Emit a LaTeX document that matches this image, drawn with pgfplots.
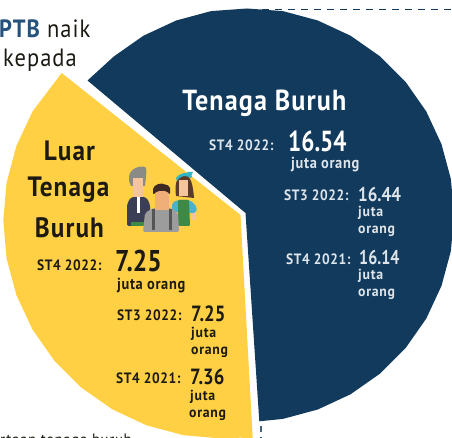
\documentclass[border=0pt]{standalone}
\usepackage{fontspec}
\usepackage{pgfplots}
\pgfplotsset{compat=1.18}
\setmainfont{PT Sans}[FakeStretch=0.9,LetterSpace=4]
\newfontfamily\numf{PT Sans}[FakeStretch=0.8]
\newfontfamily\numg{PT Sans}[FakeStretch=0.85]
\newfontfamily\smallf{PT Sans}[FakeStretch=0.95,LetterSpace=5]
\definecolor{navy}{HTML}{113A5C}
\definecolor{kuning}{HTML}{FFD044}
\definecolor{ptb}{HTML}{24527C}
\definecolor{pale}{HTML}{DDE4EA}
\definecolor{ink}{HTML}{1C1A12}
\definecolor{jacket}{HTML}{3A3F55}
\definecolor{skin}{HTML}{F4C59C}
\definecolor{skinb}{HTML}{F0AE78}
\definecolor{apron}{HTML}{3E8A45}
\definecolor{hairb}{HTML}{5A3A2C}
\definecolor{hairc}{HTML}{3E2A22}
\definecolor{band}{HTML}{2FB5C5}
\definecolor{top}{HTML}{4BB2CC}
\definecolor{shirt}{HTML}{9C9C9C}
\definecolor{strap}{HTML}{555555}
\definecolor{hairg}{HTML}{8A8A86}
\newcommand{\T}[5][ink]{\node[anchor=west,inner sep=0pt,text=#1] at (#2,#3) {\fontsize{#4}{#4}\selectfont #5};}
\newcommand{\C}[5][ink]{\node[anchor=center,inner sep=0pt,text=#1] at (#2,#3) {\fontsize{#4}{#4}\selectfont #5};}
\begin{document}
\begin{tikzpicture}
\begin{axis}[scale only axis,width=452pt,height=438pt,xmin=0,xmax=452,ymin=0,ymax=438,y dir=reverse,hide axis,clip=true,at={(0pt,0pt)},anchor=south west]
% navy slice
\addplot[fill=navy,draw=none] coordinates {(245.5,213)(87.5,80.5)(113.9,56.4)(143.5,35.7)(176.2,20.5)(211.1,11.1)(247,8.5)(282.9,11.1)(317.8,20.5)(350.5,35.7)(380.1,56.4)(405.6,81.9)(426.3,111.5)(441.5,144.2)(450.9,179.1)(454,215)(450.9,250.9)(441.5,285.8)(426.3,318.5)(405.6,348.1)(380.1,373.6)(350.5,394.3)(317.8,409.5)(282.9,418.9)(259.3,421.3)} --cycle;
% yellow slice
\addplot[fill=kuning,draw=none] coordinates {(240.5,215)(61.7,73)(32.5,111.5)(16.4,145.9)(6.6,182.7)(3.3,220.5)(6.6,258.4)(16.4,295.1)(32.5,329.5)(54.3,360.6)(81.2,387.5)(112.3,409.3)(146.7,425.4)(183.5,435.2)(221.3,438.5)(240.3,437.7)(252.7,438)} --cycle;
% dashed guides
\addplot[navy,line width=1pt,dash pattern=on 7pt off 6pt] coordinates {(262,9.5)(452,9.5)};
\addplot[navy!80,line width=2pt,dash pattern=on 6pt off 5pt] coordinates {(261,426)(261,438)};
% icon
\fill[hairg] (129,176) .. controls (131,166) and (145,165) .. (146,168) .. controls (147,176) and (145,182) .. (145,186) -- (131,186) .. controls (129,183) and (129,180) .. (129,176) -- cycle;
\fill[jacket,rounded corners=2pt] (127,226) -- (127,204) -- (131,197) -- (146,197) -- (150,204) -- (150,226) -- cycle;
\fill[skin] (133,178) rectangle (143,197);
\fill[white] (137,197) rectangle (139.5,213);
\fill[apron] (131,222) rectangle (146,226);
\fill[hairb] (176,196) .. controls (174,182) and (178,175) .. (184,175) .. controls (191,175) and (193,185) .. (194,198) -- cycle;
\fill[skin] (179,180) rectangle (188,196);
\fill[band] (176,178) .. controls (182,171) and (188,172) .. (192,176) -- (191,178) .. controls (186,175) and (181,175) .. (177,181) -- cycle;
\fill[band] (187,172) -- (193,172) -- (190,178) -- cycle;
\fill[skin] (192,206) rectangle (196,220);
\fill[top,rounded corners=2pt] (172,212) -- (172,203) -- (177,200) -- (190,200) -- (197,207) -- (196,213) -- cycle;
\fill[apron,rounded corners=1pt] (178,200) -- (189,200) -- (190,226) -- (178,226) -- cycle;
\fill[shirt,rounded corners=2pt] (143,232) -- (145,213) -- (153,208) -- (171,208) -- (178,213) -- (179,232) -- cycle;
\fill[strap] (152,209) rectangle (155,230);
\fill[strap] (169,209) rectangle (172,230);
\fill[skinb] (155,191) rectangle (169,210);
\fill[hairc,rounded corners=2pt] (153,195) -- (153,187) -- (160,183) -- (170,186) -- (170,195) -- (167,191) -- (157,191) -- cycle;
% top-left text
\T[ptb]{-1}{29}{25}{\textbf{PTB}}
\T{47}{29}{25}{naik}
\T{3}{60}{25}{kepada}
\T{0}{441}{16.5}{rtaan tenaga buruh}
% navy text
\C[white]{265}{103}{29}{\textbf{Tenaga Buruh}}
\T[pale]{209}{145}{15}{\textbf{ST4 2022:}}
\T[white]{288}{141}{29}{\numf\textbf{16.54}}
\T[pale]{291}{165}{16}{\textbf{juta orang}}
\T[pale]{284}{195}{15}{\textbf{ST3 2022:}}
\T[pale]{358}{195}{20}{\numg\textbf{16.44}}
\T[pale]{358}{213}{14.5}{\smallf\textbf{juta}}
\T[pale]{358}{231}{14.5}{\smallf\textbf{orang}}
\T[pale]{286}{259}{15}{\textbf{ST4 2021:}}
\T[pale]{359}{258}{20}{\numf\textbf{16.14}}
\T[pale]{358}{276}{14.5}{\smallf\textbf{juta}}
\T[pale]{358}{294}{14.5}{\smallf\textbf{orang}}
% yellow text
\C{70}{151}{28}{\textbf{Luar}}
\C{69}{190}{28}{\textbf{Tenaga}}
\C{70}{228}{28}{\textbf{Buruh}}
\T{37}{265}{15}{\textbf{ST4 2022:}}
\T{115}{261}{30}{\numg\textbf{7.25}}
\T{117}{286}{16}{\textbf{juta orang}}
\T{117}{315}{15}{\textbf{ST3 2022:}}
\T{191}{314}{22}{\numg\textbf{7.25}}
\T{191}{334}{14.5}{\smallf\textbf{juta}}
\T{191}{352}{14.5}{\smallf\textbf{orang}}
\T{116}{378}{15}{\textbf{ST4 2021:}}
\T{190}{377}{22}{\numg\textbf{7.36}}
\T{190}{397}{14.5}{\smallf\textbf{juta}}
\T{189}{415}{14.5}{\smallf\textbf{orang}}
\end{axis}
\pgfresetboundingbox
\useasboundingbox (0pt,0pt) rectangle (452pt,438pt);
\end{tikzpicture}
\end{document}
